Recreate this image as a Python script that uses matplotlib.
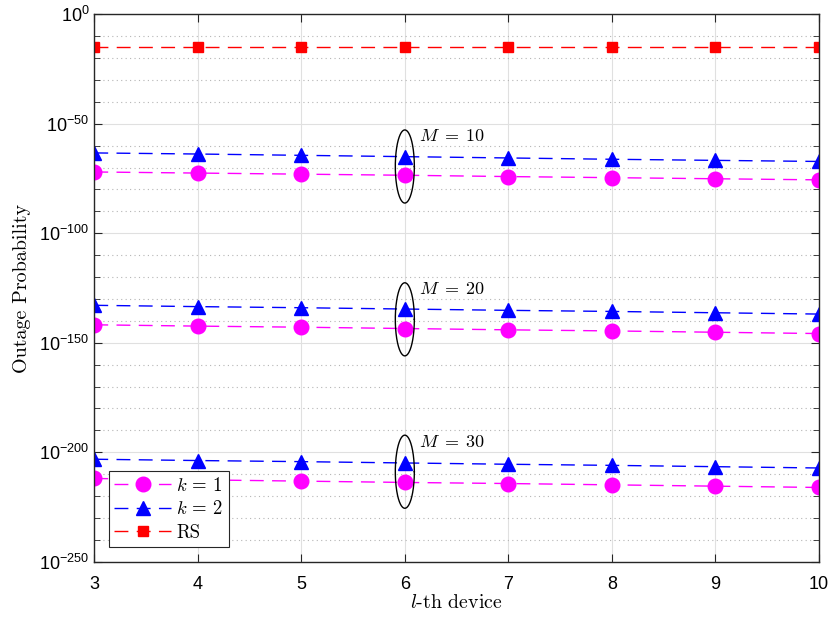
import numpy as np
import matplotlib
matplotlib.use("Agg")
import matplotlib.pyplot as plt
from matplotlib.ticker import FixedLocator, FuncFormatter

plt.rcParams['font.family'] = 'Liberation Sans'
plt.rcParams['mathtext.fontset'] = 'custom'
plt.rcParams['mathtext.rm'] = 'Liberation Sans'
plt.rcParams['mathtext.it'] = 'Liberation Sans:italic'
plt.rcParams['mathtext.bf'] = 'Liberation Sans:bold'
plt.rcParams['axes.unicode_minus'] = False

# devices
devices = [3, 4, 5, 6, 7, 8, 9, 10]

# exponents (log10 of outage probability)
k1_M10 = [-72.0, -72.5, -73.0, -73.5, -74.1, -74.6, -75.1, -75.6]
k2_M10 = [-63.3, -63.8, -64.4, -65.0, -65.6, -66.2, -66.7, -67.2]
k1_M20 = [-141.8, -142.4, -142.9, -143.5, -144.1, -144.6, -145.2, -145.8]
k2_M20 = [-132.9, -133.5, -134.0, -134.6, -135.2, -135.7, -136.3, -136.9]
k1_M30 = [-212.0, -212.6, -213.2, -213.8, -214.3, -214.9, -215.5, -216.1]
k2_M30 = [-203.2, -203.8, -204.3, -204.9, -205.5, -206.0, -206.6, -207.2]
rs = [-15.0] * 8

# M labels: (text, ellipse centre exponent, text exponent)
m_labels = [("10", -69.5, -55.9), ("20", -139.3, -125.9), ("30", -208.9, -195.7)]

fig = plt.figure(figsize=(8.30, 6.23), dpi=100)
ax = fig.add_axes([0.1136, 0.0984, 0.873, 0.8786])

dash = (10, 6)
for i, (k1, k2) in enumerate([(k1_M10, k2_M10), (k1_M20, k2_M20), (k1_M30, k2_M30)]):
    ax.plot(devices, 10.0 ** np.array(k1), color='magenta', marker='o', markersize=10.5,
            lw=1, dashes=dash, label=r'$k\,=\,1$' if i == 0 else None)
    ax.plot(devices, 10.0 ** np.array(k2), color='blue', marker='^', markersize=10.5,
            lw=1, dashes=dash, label=r'$k\,=\,2$' if i == 0 else None)
ax.plot(devices, 10.0 ** np.array(rs), color='red', marker='s', markersize=7,
        lw=1, dashes=dash, label='RS')

# ellipses around the points at device 6
t = np.linspace(0, 2 * np.pi, 200)
for txt, yc, yt in m_labels:
    ax.plot(6 + 0.092 * np.cos(t), 10.0 ** (yc + 16.7 * np.sin(t)), color='black', lw=1)
    ax.text(6.14, 10.0 ** yt, r'$M\;=\;%s$' % txt, fontsize=13, va='center',
            ha='left', math_fontfamily='cm')

ax.set_yscale('log')
ax.set_xlim(3, 10)
ax.set_ylim(1e-250, 1e0)
ax.yaxis.set_major_locator(FixedLocator(10.0 ** np.arange(-250, 1, 50)))
ax.yaxis.set_minor_locator(FixedLocator(10.0 ** np.arange(-250, 1, 10)))
ax.yaxis.set_major_formatter(FuncFormatter(lambda v, p: r'$\mathdefault{10^{%d}}$' % round(np.log10(v))))
ax.yaxis.set_minor_formatter(FuncFormatter(lambda v, p: ''))
ax.set_xticks(devices)

ax.grid(True, which='major', color='#e0e0e0', lw=0.8, ls='-')
ax.grid(True, which='minor', axis='y', color='#b5b5b5', lw=0.8, ls=(0, (1, 3)))
ax.set_axisbelow(True)

ax.tick_params(which='both', direction='in', top=True, right=True, labelsize=13,
               color='#262626')
ax.tick_params(which='major', length=6)
ax.tick_params(which='minor', length=4)
ax.tick_params(axis='x', pad=10)
for s in ax.spines.values():
    s.set_color('#262626')
    s.set_linewidth(1)

ax.set_xlabel('$l$-th device', fontsize=14.3, family='cmr10', math_fontfamily='cm', labelpad=1)
ax.set_ylabel('Outage Probability', fontsize=14.5, family='cmr10', labelpad=6)

leg = ax.legend(loc='lower left', bbox_to_anchor=(0.02, 0.026), borderaxespad=0,
                fontsize=13.5, handlelength=3.0, fancybox=False, framealpha=1,
                edgecolor='#262626', borderpad=0.3, labelspacing=0.3, handletextpad=0.3)
leg.get_frame().set_linewidth(0.8)
for tx in leg.get_texts():
    tx.set_math_fontfamily('cm')
    if tx.get_text() == 'RS':
        tx.set_family('cmr10')

fig.savefig('out.png', dpi=100)
